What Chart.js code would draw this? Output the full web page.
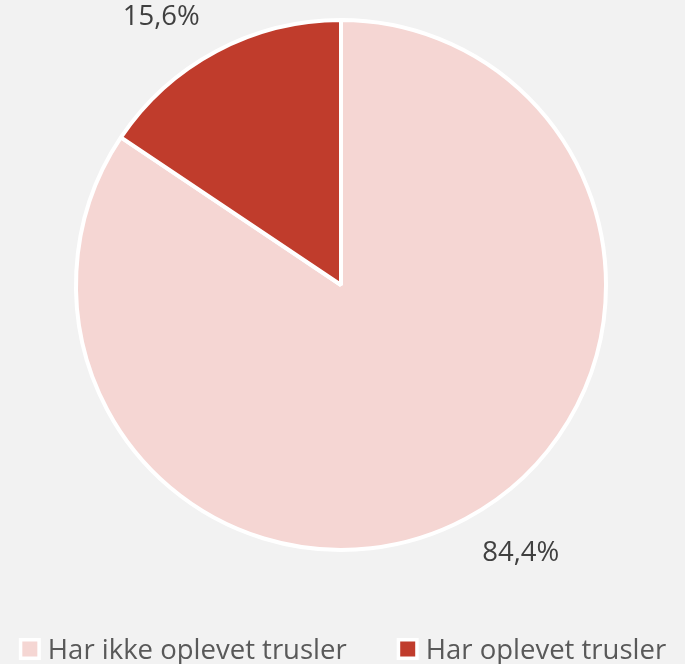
<!DOCTYPE html>
<html>
<head>
<meta charset="utf-8">
<script src="https://cdn.jsdelivr.net/npm/chart.js@4.4.0/dist/chart.umd.min.js"></script>
<style>
html,body{margin:0;padding:0;background:#f2f2f2;overflow:hidden;}
#wrap{position:relative;width:685px;height:664px;}
</style>
</head>
<body>
<div id="wrap"><canvas id="c"></canvas></div>
<script>
const categories = ["Har ikke oplevet trusler", "Har oplevet trusler"];
const values = [84.4, 15.6];
const valueLabels = ["84,4%", "15,6%"];
const colors = ["#f5d6d3", "#c03c2c"];

const FONT = '"Open Sans", Lato, sans-serif';

const outsideLabels = {
  id: 'outsideLabels',
  afterDatasetsDraw(chart) {
    const ctx = chart.ctx;
    const meta = chart.getDatasetMeta(0);
    ctx.save();
    ctx.font = '27.5px ' + FONT;
    ctx.fillStyle = '#404040';
    ctx.textAlign = 'center';
    ctx.textBaseline = 'middle';
    meta.data.forEach((arc, i) => {
      const p = arc.getProps(['x','y','startAngle','endAngle','outerRadius'], true);
      const mid = (p.startAngle + p.endAngle) / 2;
      const ex = p.x + Math.cos(mid) * p.outerRadius;
      const ey = p.y + Math.sin(mid) * p.outerRadius;
      const sx = Math.sign(Math.cos(mid));
      const sy = Math.sign(Math.sin(mid));
      ctx.fillText(valueLabels[i], ex + sx * 55, ey + sy * 34);
    });
    ctx.restore();
  }
};

const bottomLegend = {
  id: 'bottomLegend',
  afterDraw(chart) {
    const ctx = chart.ctx;
    const labels = chart.data.labels;
    const bg = chart.data.datasets[0].backgroundColor;
    ctx.save();
    ctx.font = '27.5px ' + FONT;
    ctx.textBaseline = 'alphabetic';
    ctx.textAlign = 'left';
    const box = 22, inner = 15, gap = 7, spacing = 50;
    const widths = labels.map(t => box + gap + ctx.measureText(t).width);
    const total = widths.reduce((a, b) => a + b, 0) + spacing * (labels.length - 1);
    let x = (chart.width - total) / 2;
    const baseline = 659, boxTop = 638;
    labels.forEach((t, i) => {
      ctx.fillStyle = '#ffffff';
      ctx.fillRect(x, boxTop, box, box);
      ctx.fillStyle = bg[i];
      const o = (box - inner) / 2;
      ctx.fillRect(x + o, boxTop + o, inner, inner);
      ctx.fillStyle = '#595959';
      ctx.fillText(t, x + box + gap, baseline);
      x += widths[i] + spacing;
    });
    ctx.restore();
  }
};

new Chart(document.getElementById('c'), {
  type: 'pie',
  data: {
    labels: categories,
    datasets: [{
      data: values,
      backgroundColor: colors,
      borderColor: '#ffffff',
      borderWidth: 4
    }]
  },
  options: {
    responsive: true,
    maintainAspectRatio: false,
    animation: false,
    layout: { padding: { top: 18, bottom: 112, left: 0, right: 3 } },
    plugins: {
      tooltip: { enabled: false },
      legend: { display: false }
    }
  },
  plugins: [outsideLabels, bottomLegend]
});
</script>
</body>
</html>
